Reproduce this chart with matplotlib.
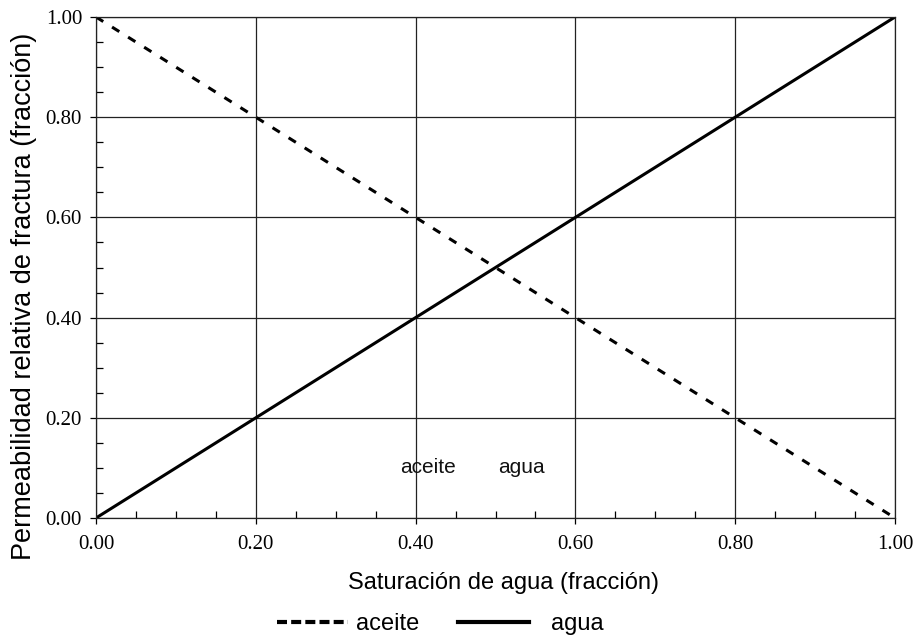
import numpy as np
import matplotlib.pyplot as plt
from matplotlib.ticker import MultipleLocator, FormatStrFormatter
from matplotlib.lines import Line2D

# saturacion de agua y permeabilidades relativas (lineas rectas)
sw = [0.0, 1.0]
kro = [1.0, 0.0]
krw = [0.0, 1.0]

labels = ["aceite", "agua"]
label_x = [0.415, 0.533]
label_y = [0.10, 0.10]

fig = plt.figure(figsize=(9.14, 6.36), dpi=100)
ax = fig.add_axes([96 / 914, 1 - 518 / 636, 799 / 914, 501 / 636])

ax.plot(sw, kro, color="black", lw=2.2, ls=(0, (2.8, 3.4)))
ax.plot(sw, krw, color="black", lw=2.2)

for t, x, y in zip(labels, label_x, label_y):
    ax.text(x, y, t, ha="center", va="center", fontsize=15,
            family="Liberation Sans", color="#111111")

ax.set_xlim(0, 1)
ax.set_ylim(0, 1)
ax.xaxis.set_major_locator(MultipleLocator(0.2))
ax.yaxis.set_major_locator(MultipleLocator(0.2))
ax.xaxis.set_minor_locator(MultipleLocator(0.05))
ax.yaxis.set_minor_locator(MultipleLocator(0.05))
ax.xaxis.set_major_formatter(FormatStrFormatter("%.2f"))
ax.yaxis.set_major_formatter(FormatStrFormatter("%.2f"))
ax.grid(True, which="major", color="#222222", lw=0.9)
ax.tick_params(which="major", direction="out", length=4.5, width=0.9,
               labelsize=15, labelfontfamily="Liberation Serif")
ax.tick_params(which="minor", direction="in", length=5, width=0.9)
ax.tick_params(axis="x", pad=8)
ax.tick_params(axis="y", pad=5.5)
for s in ax.spines.values():
    s.set_linewidth(0.9)
    s.set_color("#222222")

ax.set_xlabel("Saturación de agua (fracción)", family="Liberation Sans", fontsize=17)
ax.set_ylabel("Permeabilidad relativa de fractura (fracción)", family="Liberation Sans",
              fontsize=19.5)
ax.xaxis.set_label_coords(503 / 914, 1 - 583 / 636, transform=fig.transFigure)
ax.yaxis.set_label_coords(24 / 914, 1 - 296 / 636, transform=fig.transFigure)
ax.xaxis.label.set_va("center")
ax.yaxis.label.set_va("center")

# leyenda inferior: una entrada por legend para separar como en el original
leg_handles = [Line2D([0], [0], color="black", lw=3, ls=(0, (2.4, 1.0))),
               Line2D([0], [0], color="black", lw=3)]
leg_x = [277, 458]
leg_pad = [0.35, 0.93]
for h, t, x, p in zip(leg_handles, labels, leg_x, leg_pad):
    fig.legend([h], [t], loc="center left", bbox_to_anchor=(x / 914, 1 - 624 / 636),
               frameon=False, handlelength=3.0, handletextpad=p, borderpad=0,
               borderaxespad=0, prop={"family": "Liberation Sans", "size": 17})

fig.savefig("out.png", dpi=100)
